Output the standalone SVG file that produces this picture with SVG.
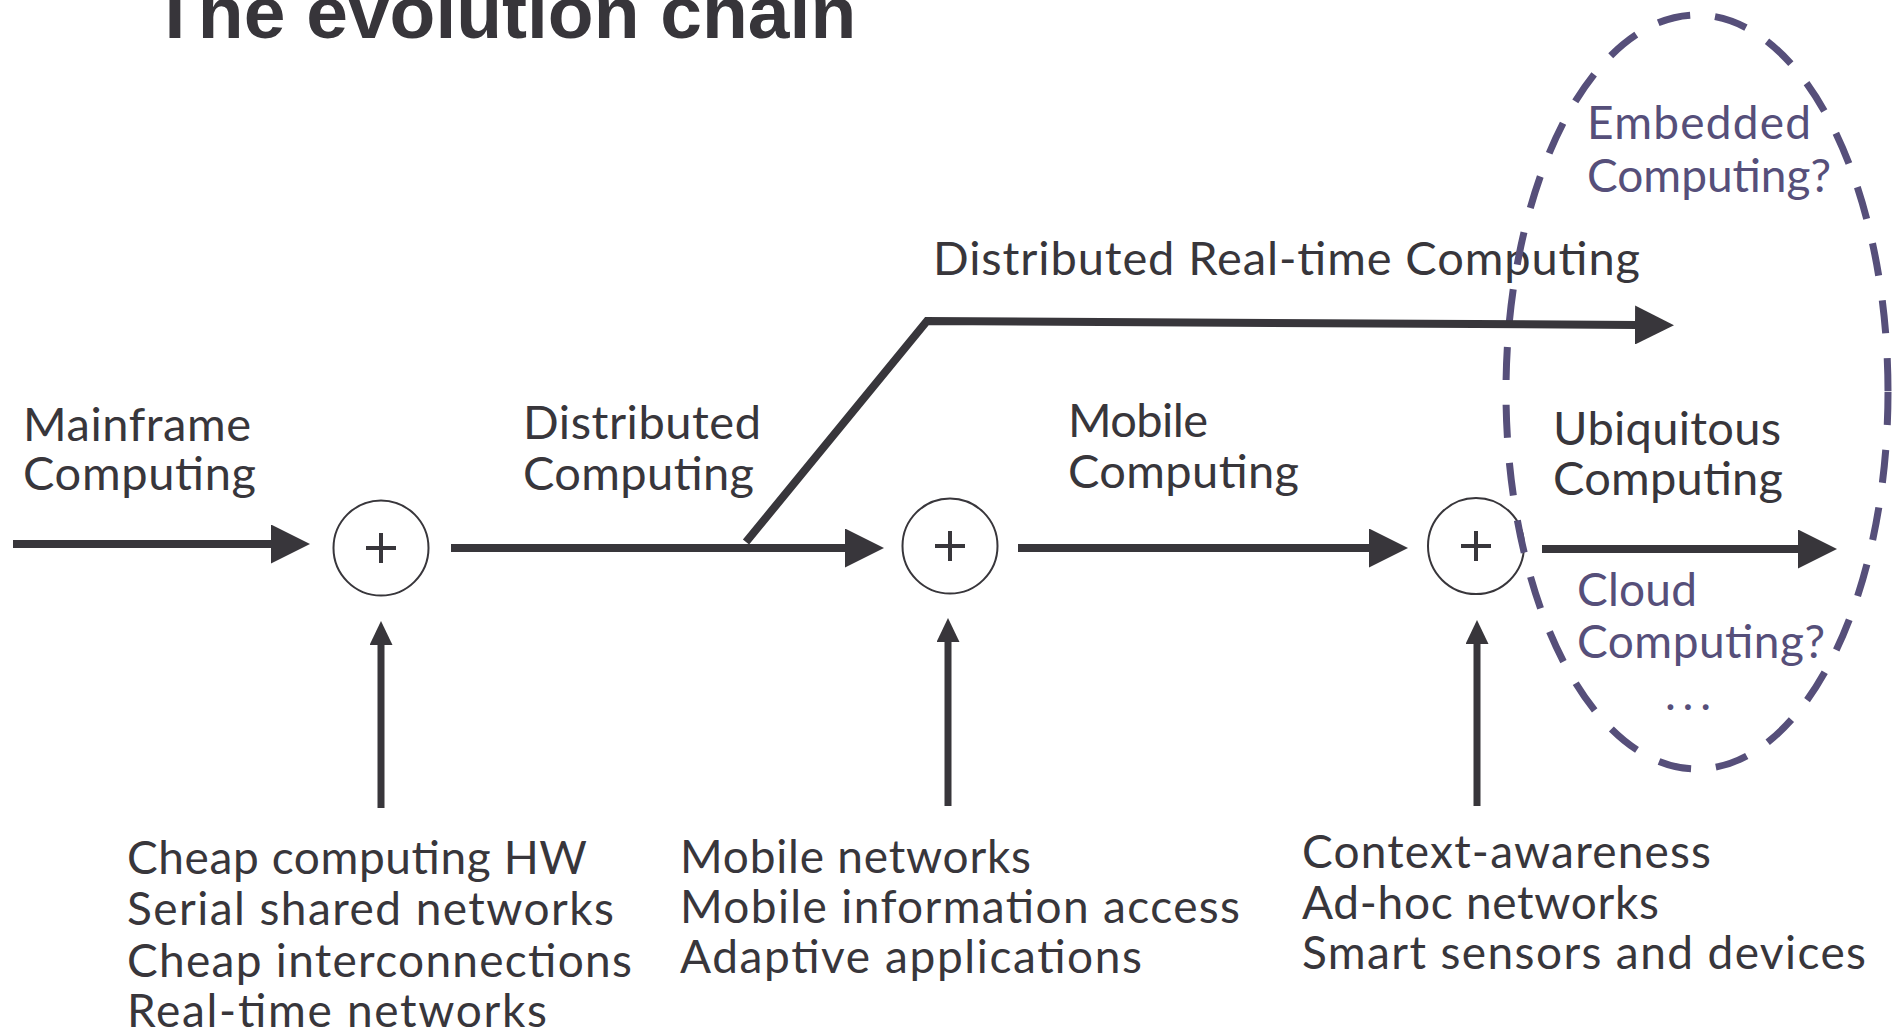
<svg xmlns="http://www.w3.org/2000/svg" width="1897" height="1032" viewBox="0 0 1897 1032">
  <style>
    .title { font-family: "Liberation Sans", Arial, sans-serif; font-weight: bold; font-size: 75px; fill: #37353a; }
    .lbl { font-family: Lato, "Open Sans", sans-serif; font-size: 47px; fill: #38363b; }
    .req { font-family: Lato, "Open Sans", sans-serif; font-size: 46px; fill: #38363b; }
    .future { font-family: Lato, "Open Sans", sans-serif; font-size: 46px; fill: #564f7a; }
    .flow { fill: none; stroke: #38363b; stroke-width: 8; }
    .feed { fill: none; stroke: #38363b; stroke-width: 7; }
    .sum circle { fill: #ffffff; stroke: #38363b; stroke-width: 2; }
    .sum path { fill: none; stroke: #38363b; stroke-width: 4; }
    .scope { fill: none; stroke: #564f7a; stroke-width: 7; stroke-dasharray: 33 25; }
  </style>
  <defs>
    <marker id="head" markerUnits="userSpaceOnUse" viewBox="0 0 39 39" markerWidth="39" markerHeight="39" refX="2" refY="19.5" orient="auto">
      <path d="M0,0 L39,19.5 L0,39 Z" fill="#38363b"/>
    </marker>
    <marker id="head-sm" markerUnits="userSpaceOnUse" viewBox="0 0 24 23" markerWidth="24" markerHeight="23" refX="2" refY="11.5" orient="auto">
      <path d="M0,0 L24,11.5 L0,23 Z" fill="#38363b"/>
    </marker>
  </defs>

  <text class="title" x="152" y="38">The evolution chain</text>

  <!-- eras -->
  <g id="mainframe">
    <text class="lbl" x="23" y="441" textLength="228" lengthAdjust="spacing">Mainframe</text>
    <text class="lbl" x="23" y="490" textLength="233" lengthAdjust="spacing">Computing</text>
  </g>
  <g id="distributed">
    <text class="lbl" x="523" y="439" textLength="238" lengthAdjust="spacing">Distributed</text>
    <text class="lbl" x="523" y="490" textLength="231" lengthAdjust="spacing">Computing</text>
  </g>
  <g id="mobile">
    <text class="lbl" x="1068" y="437" textLength="140" lengthAdjust="spacing">Mobile</text>
    <text class="lbl" x="1068" y="488" textLength="231" lengthAdjust="spacing">Computing</text>
  </g>
  <g id="ubiquitous">
    <text class="lbl" x="1553" y="445" textLength="228" lengthAdjust="spacing">Ubiquitous</text>
    <text class="lbl" x="1553" y="495" textLength="230" lengthAdjust="spacing">Computing</text>
  </g>
  <g id="distributed-realtime">
    <text class="lbl" x="933" y="275" textLength="707" lengthAdjust="spacing">Distributed Real-time Computing</text>
  </g>

  <!-- combination points -->
  <g id="sum1" class="sum">
    <circle cx="381" cy="548" r="47.5"/>
    <path d="M366,548 H396 M381,533 V563"/>
  </g>
  <g id="sum2" class="sum">
    <circle cx="950" cy="546" r="47.5"/>
    <path d="M935,546 H965 M950,531 V561"/>
  </g>
  <g id="sum3" class="sum">
    <circle cx="1476" cy="546" r="48"/>
    <path d="M1461,546 H1491 M1476,531 V561"/>
  </g>

  <!-- enabling technologies -->
  <g id="tech1">
    <text class="req" x="127" y="874" textLength="460" lengthAdjust="spacing">Cheap computing HW</text>
    <text class="req" x="127" y="925" textLength="487" lengthAdjust="spacing">Serial shared networks</text>
    <text class="req" x="127" y="977" textLength="505" lengthAdjust="spacing">Cheap interconnections</text>
    <text class="req" x="127" y="1027" textLength="420" lengthAdjust="spacing">Real-time networks</text>
  </g>
  <g id="tech2">
    <text class="req" x="680" y="873" textLength="351" lengthAdjust="spacing">Mobile networks</text>
    <text class="req" x="680" y="923" textLength="560" lengthAdjust="spacing">Mobile information access</text>
    <text class="req" x="680" y="973" textLength="462" lengthAdjust="spacing">Adaptive applications</text>
  </g>
  <g id="tech3">
    <text class="req" x="1302" y="868" textLength="409" lengthAdjust="spacing">Context-awareness</text>
    <text class="req" x="1302" y="919" textLength="357" lengthAdjust="spacing">Ad-hoc networks</text>
    <text class="req" x="1302" y="969" textLength="564" lengthAdjust="spacing">Smart sensors and devices</text>
  </g>

  <!-- outlook -->
  <g id="outlook">
    <ellipse class="scope" cx="1697" cy="392" rx="191" ry="377"/>
    <text class="future" x="1587" y="139" textLength="224" lengthAdjust="spacing">Embedded</text>
    <text class="future" x="1587" y="192" textLength="244" lengthAdjust="spacing">Computing?</text>
    <text class="future" x="1577" y="606" textLength="120" lengthAdjust="spacing">Cloud</text>
    <text class="future" x="1577" y="658" textLength="248" lengthAdjust="spacing">Computing?</text>
    <text class="future" x="1665" y="710" textLength="46" lengthAdjust="spacing">...</text>
  </g>

  <!-- connectors -->
  <g id="connectors">
    <line class="flow" x1="13" y1="544" x2="273" y2="544" marker-end="url(#head)"/>
    <line class="flow" x1="451" y1="548" x2="847" y2="548" marker-end="url(#head)"/>
    <line class="flow" x1="1018" y1="548" x2="1371" y2="548" marker-end="url(#head)"/>
    <line class="flow" x1="1542" y1="549" x2="1800" y2="549" marker-end="url(#head)"/>
    <polyline class="flow" points="746,542 927,321 1637,325" marker-end="url(#head)"/>
    <line class="feed" x1="381" y1="808" x2="381" y2="643" marker-end="url(#head-sm)"/>
    <line class="feed" x1="948" y1="806" x2="948" y2="640" marker-end="url(#head-sm)"/>
    <line class="feed" x1="1477" y1="806" x2="1477" y2="642" marker-end="url(#head-sm)"/>
  </g>
</svg>
